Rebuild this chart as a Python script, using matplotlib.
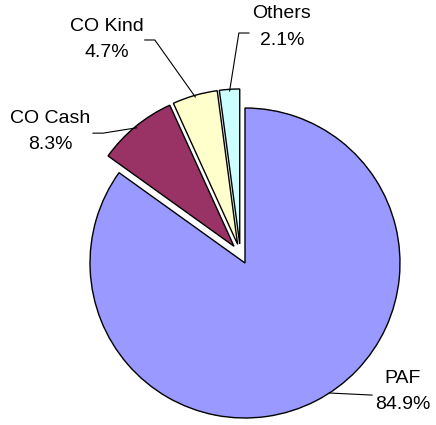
import numpy as np
import matplotlib
matplotlib.use("Agg")
import matplotlib.pyplot as plt

categories = ["PAF", "CO Cash", "CO Kind", "Others"]
values = [84.9, 8.3, 4.7, 2.1]
colors = ["#9999FF", "#993366", "#FFFFCC", "#CCFFFF"]

plt.rcParams['font.family'] = ['Liberation Sans', 'DejaVu Sans']

fig = plt.figure(figsize=(4.36, 4.25), dpi=100)
ax = fig.add_axes([0, 0, 1, 1])
ax.axis('off')

explode = 0.065
wedges, _ = ax.pie(values, colors=colors, startangle=90, counterclock=False,
                   explode=[explode] * len(values), radius=1.0,
                   wedgeprops=dict(edgecolor='black', linewidth=1.0))

ax.set_xlim(-1.551, 1.262)
ax.set_ylim(-1.103, 1.639)
ax.set_aspect('equal', adjustable='datalim')

# label layout (text centre, elbow point) in axes data units
label_pos = {
    "CO Cash": (-1.228, 0.79),
    "CO Kind": (-0.861, 1.385),
    "Others": (0.268, 1.465),
    "PAF": (1.049, -0.885),
}
elbows = {
    "CO Cash": [(-0.951, 0.780), (-0.886, 0.780)],
    "CO Kind": [(-0.617, 1.381), (-0.552, 1.381)],
    "Others": [(0.055, 1.426), (-0.010, 1.426)],
    "PAF": [(0.850, -0.910), (0.850, -0.910)],
}

for w, cat, v in zip(wedges, categories, values):
    mid = np.deg2rad((w.theta1 + w.theta2) / 2)
    r = 1.0 + explode
    ax_pt = (r * np.cos(mid) * 0.99, r * np.sin(mid) * 0.99)
    if cat == "PAF":
        th = np.deg2rad(-57)
        ax_pt = (np.cos(th) + explode * np.cos(mid),
                 np.sin(th) + explode * np.sin(mid))
    pts = elbows[cat] + [ax_pt]
    xs = [p[0] for p in pts]
    ys = [p[1] for p in pts]
    ax.plot(xs, ys, color='black', linewidth=0.8)
    tx, ty = label_pos[cat]
    ax.text(tx, ty, f"{cat}\n{v:.1f}%", ha='center', va='center', fontsize=14,
            linespacing=1.7, color='black')

fig.savefig("out.png", dpi=100)
